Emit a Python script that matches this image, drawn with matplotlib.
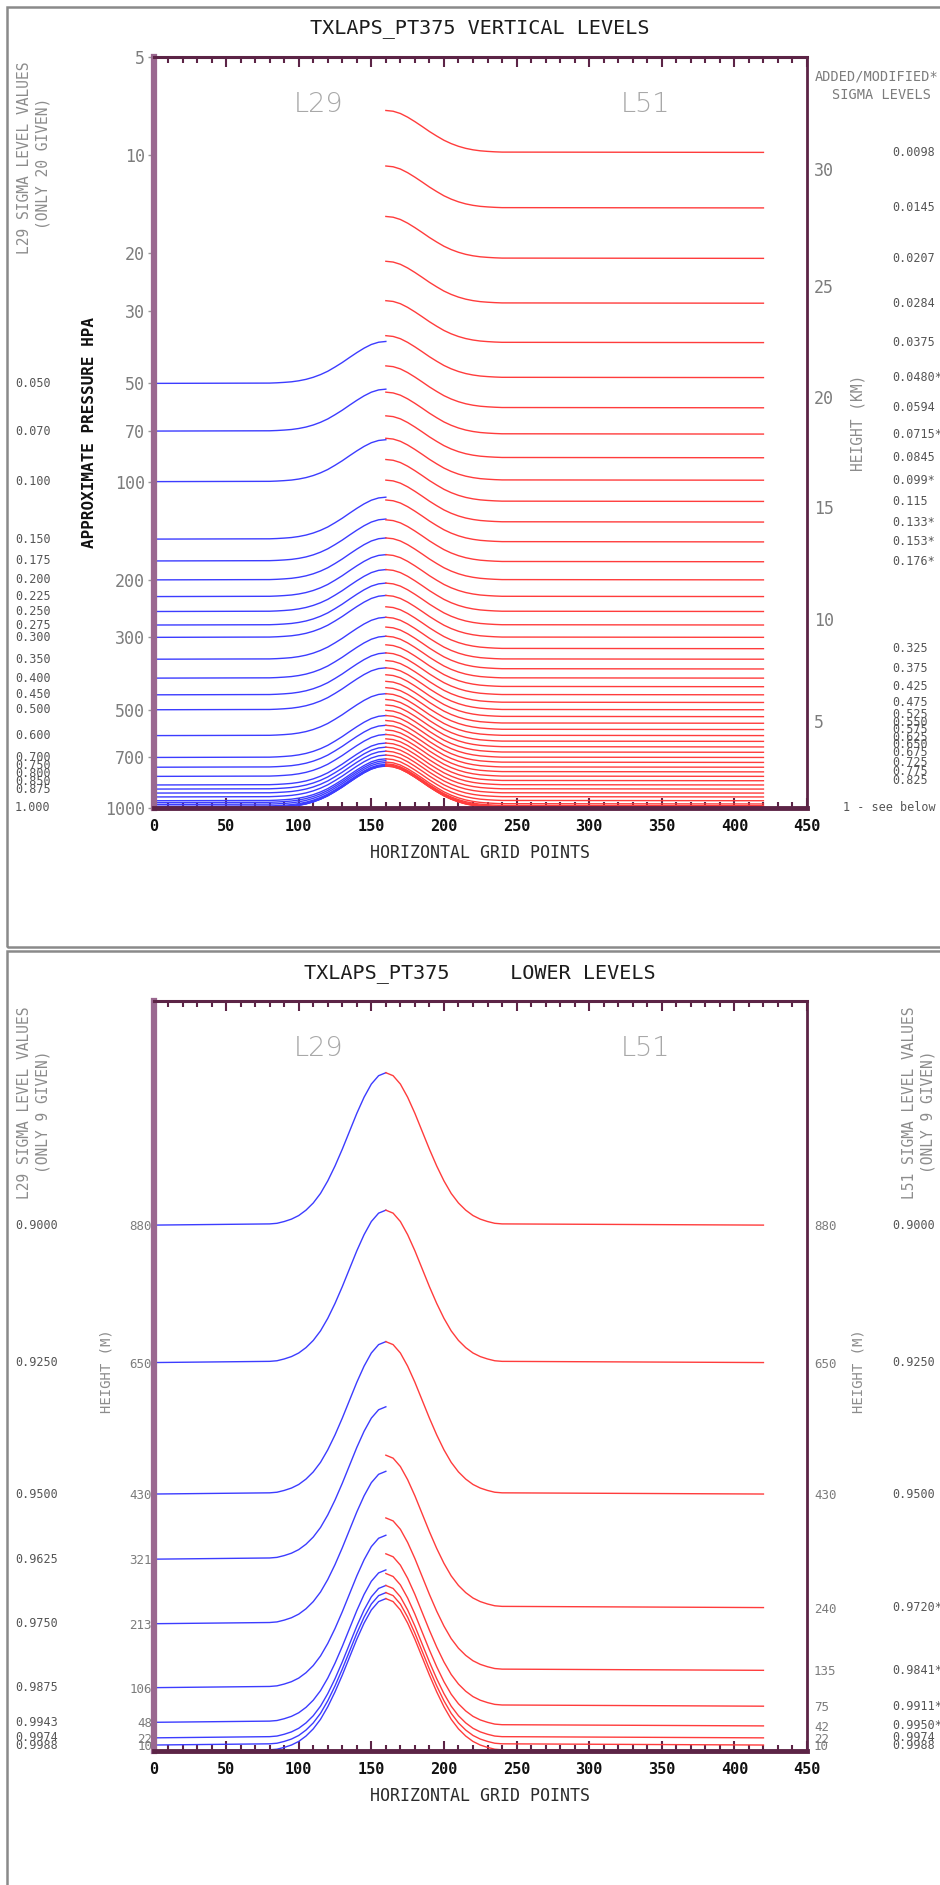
import numpy as np
import matplotlib.pyplot as plt
from matplotlib.patches import Rectangle
from matplotlib.ticker import NullLocator, MultipleLocator

plt.rcParams['font.family'] = ['DejaVu Sans Mono']

# hill profile (grid points, surface pressure, terrain height)
hill_x = [0, 80, 85, 90, 95, 100, 105, 110, 115, 120, 125, 130, 135, 140, 145, 150, 155, 160,
          165, 170, 175, 180, 185, 190, 195, 200, 205, 210, 215, 220, 225, 230, 235, 240, 420]
ps_top = [1000, 998, 996, 993, 989, 982, 972, 958, 940, 918, 891, 863, 833, 805, 780, 760, 748, 744,
          748, 760, 780, 805, 833, 863, 891, 918, 940, 958, 972, 982, 989, 993, 996, 998, 1000]
terrain_low = [0, 2, 3, 6, 10, 16, 25, 37, 53, 74, 99, 127, 157, 187, 214, 236, 250, 255,
               250, 236, 214, 187, 157, 127, 99, 74, 53, 37, 25, 16, 10, 6, 3, 2, 0]

# sigma levels
l29_sigma = [0.05, 0.07, 0.10, 0.15, 0.175, 0.20, 0.225, 0.25, 0.275, 0.30, 0.35, 0.40, 0.45, 0.50,
             0.60, 0.70, 0.75, 0.80, 0.85, 0.875, 0.90, 0.925, 0.95, 0.9625, 0.975, 0.9875, 0.9943,
             0.9974, 0.9988, 1.0]
l51_sigma = [0.0098, 0.0145, 0.0207, 0.0284, 0.0375, 0.048, 0.0594, 0.0715, 0.0845, 0.099, 0.115,
             0.133, 0.153, 0.176, 0.20, 0.225, 0.25, 0.275, 0.30, 0.325, 0.35, 0.375, 0.40, 0.425,
             0.45, 0.475, 0.50, 0.525, 0.55, 0.575, 0.60, 0.625, 0.65, 0.675, 0.70, 0.725, 0.75,
             0.775, 0.80, 0.825, 0.85, 0.875, 0.90, 0.925, 0.95, 0.972, 0.9841, 0.9911, 0.995,
             0.9974, 0.9988, 1.0]

# axis labels, top panel
pres_ticks = [5, 10, 20, 30, 50, 70, 100, 200, 300, 500, 700, 1000]
km_labels = ['5', '10', '15', '20', '25', '30']
km_tick_pres = [540, 264, 120, 55, 25.1, 11.0]
top_l29_labels = ['0.050', '0.070', '0.100', '0.150', '0.175', '0.200', '0.225', '0.250', '0.275',
                  '0.300', '0.350', '0.400', '0.450', '0.500', '0.600', '0.700', '0.750', '0.800',
                  '0.850', '0.875', '1.000']
top_l51_labels = ['0.0098', '0.0145', '0.0207', '0.0284', '0.0375', '0.0480*', '0.0594', '0.0715*',
                  '0.0845', '0.099*', '0.115', '0.133*', '0.153*', '0.176*', '0.325', '0.375',
                  '0.425', '0.475', '0.525', '0.550', '0.575', '0.625', '0.650', '0.675', '0.725',
                  '0.775', '0.825']

# lower panel levels (height in m) and their sigma labels
low_l29_m = [880, 650, 430, 321, 213, 106, 48, 22, 10]
low_l29_sig = ['0.9000', '0.9250', '0.9500', '0.9625', '0.9750', '0.9875', '0.9943', '0.9974', '0.9988']
low_l51_m = [880, 650, 430, 240, 135, 75, 42, 22, 10]
low_l51_sig = ['0.9000', '0.9250', '0.9500', '0.9720*', '0.9841*', '0.9911*', '0.9950*', '0.9974', '0.9988']

x_ticks = [0, 50, 100, 150, 200, 250, 300, 350, 400, 450]

W, H = 940, 1885
BLUE = '#3c3cff'
RED = '#ff3c3c'
SPINE = '#5c2446'
LBL = '#7c7c7c'

fig = plt.figure(figsize=(W / 100, H / 100), dpi=100)


def fx(x):
    return x / W


def fy(y):
    return 1 - y / H


def put(x, y, s, **kw):
    kw.setdefault('va', 'center')
    fig.text(fx(x), fy(y), s, **kw)


def frame(x0, y0, x1, y1):
    fig.add_artist(Rectangle((fx(x0), fy(y1)), (x1 - x0) / W, (y1 - y0) / H,
                             transform=fig.transFigure, fill=False, ec='#8a8a8a', lw=1.8,
                             clip_on=False))


def style_axes(ax):
    ax.set_xlim(0, 450)
    ax.set_xticks(x_ticks)
    ax.set_xticklabels([str(v) for v in x_ticks], fontweight='bold', color='#111111')
    ax.xaxis.set_minor_locator(MultipleLocator(10))
    ax.tick_params(axis='x', which='both', direction='in', top=True, bottom=True,
                   color=SPINE, width=1.5)
    ax.tick_params(axis='x', which='major', length=7, labelsize=11, pad=8)
    ax.tick_params(axis='x', which='minor', length=4.5)
    ax.spines['left'].set_color('#9a6890')
    ax.spines['left'].set_linewidth(4.5)
    ax.spines['bottom'].set_color(SPINE)
    ax.spines['bottom'].set_linewidth(3.5)
    ax.spines['top'].set_color(SPINE)
    ax.spines['top'].set_linewidth(2.2)
    ax.spines['right'].set_color(SPINE)
    ax.spines['right'].set_linewidth(2)


def stacked(ax, values, texts, xs, gap, **kw):
    # place labels at their level, pushing them upward so they do not pile up
    ys = [H - ax.transData.transform((0, v))[1] for v in values]
    order = np.argsort(ys, kind='stable')[::-1]
    prev = None
    for i in order:
        y = ys[i]
        if prev is not None and y > prev - gap:
            y = prev - gap
        put(xs[i], y, texts[i], **kw)
        prev = y


hx = np.array(hill_x)
left = hx <= 160
right = hx >= 160

# ---------------- top panel ----------------
frame(7, 7, 960, 947)
ax1 = fig.add_axes([fx(153.5), fy(808), (807 - 153.5) / W, (808 - 57) / H])
ps = np.array(ps_top, dtype=float)
for s in l29_sigma:
    ax1.plot(hx[left], s * ps[left], color=BLUE, lw=1.0)
for s in l51_sigma:
    ax1.plot(hx[right], s * ps[right], color=RED, lw=1.0)
ax1.set_yscale('log')
ax1.set_ylim(1000, 5)
ax1.set_yticks(pres_ticks)
ax1.set_yticklabels([str(p) for p in pres_ticks])
ax1.yaxis.set_minor_locator(NullLocator())
ax1.tick_params(axis='y', which='both', direction='out', length=4.5, width=1, color='#999999',
                labelcolor=LBL, labelsize=12, pad=1.5)
style_axes(ax1)

ax1r = ax1.twinx()
ax1r.set_yscale('log')
ax1r.set_ylim(1000, 5)
ax1r.set_yticks(km_tick_pres)
ax1r.set_yticklabels(km_labels)
ax1r.yaxis.set_minor_locator(NullLocator())
ax1r.tick_params(axis='y', which='both', length=0, pad=5, labelsize=12, labelcolor=LBL)
for sp in ax1r.spines.values():
    sp.set_visible(False)

put(480, 29, 'TXLAPS_PT375 VERTICAL LEVELS', ha='center', fontsize=14.5, color='#1c1c1c')
put(319, 105, 'L29', ha='center', family='DejaVu Sans', fontweight='light', fontsize=19.5,
    color='#a8a8a8')
put(645, 105, 'L51', ha='center', family='DejaVu Sans', fontweight='light', fontsize=19.5,
    color='#a8a8a8')
put(25, 158, 'L29 SIGMA LEVEL VALUES', ha='center', rotation=90, fontsize=10.5, color='#8c8c8c')
put(43, 163, '(ONLY 20 GIVEN)', ha='center', rotation=90, fontsize=10.5, color='#8c8c8c')
put(90, 432, 'APPROXIMATE PRESSURE HPA', ha='center', rotation=90, fontsize=11.5,
    fontweight='bold', color='#111111')
put(858, 423, 'HEIGHT (KM)', ha='center', rotation=90, fontsize=10.5, color='#8c8c8c')
put(877, 77, 'ADDED/MODIFIED*', ha='center', fontsize=9.8, color=LBL)
put(882, 95, 'SIGMA LEVELS', ha='center', fontsize=9.8, color=LBL)
put(480, 853, 'HORIZONTAL GRID POINTS', ha='center', fontsize=12, color='#2a2a2a')

stacked(ax1, [float(t) * 1000 for t in top_l29_labels], top_l29_labels,
        [15] * len(top_l29_labels), 8, fontsize=8.5, color='#555555')
stacked(ax1, [1000] + [float(t.rstrip('*')) * 1000 for t in top_l51_labels],
        ['1 - see below'] + top_l51_labels, [843] + [892] * len(top_l51_labels), 7.5,
        fontsize=8.5, color='#555555')

# ---------------- lower panel ----------------
frame(7, 951, 960, 1900)
ax2 = fig.add_axes([fx(153.5), fy(1751), (807 - 153.5) / W, (1751 - 1001) / H])
ter = np.array(terrain_low, dtype=float)
for z in low_l29_m + [0]:
    ax2.plot(hx[left], z + ter[left], color=BLUE, lw=1.0)
for z in low_l51_m + [0]:
    ax2.plot(hx[right], z + ter[right], color=RED, lw=1.0)
ax2.set_ylim(0, 1255)
ax2.set_yticks(low_l29_m)
ax2.set_yticklabels([str(v) for v in low_l29_m])
ax2.tick_params(axis='y', length=0, pad=1, labelsize=9, labelcolor=LBL)
style_axes(ax2)

ax2r = ax2.twinx()
ax2r.set_ylim(0, 1255)
ax2r.set_yticks(low_l51_m)
ax2r.set_yticklabels([str(v) for v in low_l51_m])
ax2r.tick_params(axis='y', length=0, pad=5, labelsize=9, labelcolor=LBL)
for sp in ax2r.spines.values():
    sp.set_visible(False)

put(480, 973, 'TXLAPS_PT375     LOWER LEVELS', ha='center', fontsize=14.5, color='#1c1c1c')
put(319, 1048, 'L29', ha='center', family='DejaVu Sans', fontweight='light', fontsize=19.5,
    color='#a8a8a8')
put(645, 1048, 'L51', ha='center', family='DejaVu Sans', fontweight='light', fontsize=19.5,
    color='#a8a8a8')
put(25, 1103, 'L29 SIGMA LEVEL VALUES', ha='center', rotation=90, fontsize=10.5, color='#8c8c8c')
put(43, 1112, '(ONLY 9 GIVEN)', ha='center', rotation=90, fontsize=10.5, color='#8c8c8c')
put(910, 1103, 'L51 SIGMA LEVEL VALUES', ha='center', rotation=90, fontsize=10.5, color='#8c8c8c')
put(928, 1112, '(ONLY 9 GIVEN)', ha='center', rotation=90, fontsize=10.5, color='#8c8c8c')
put(107, 1371, 'HEIGHT (M)', ha='center', rotation=90, fontsize=10, color='#8c8c8c')
put(858, 1371, 'HEIGHT (M)', ha='center', rotation=90, fontsize=10, color='#8c8c8c')
put(480, 1796, 'HORIZONTAL GRID POINTS', ha='center', fontsize=12, color='#2a2a2a')

stacked(ax2, low_l29_m, low_l29_sig, [15] * 9, 8, fontsize=8.5, color='#555555')
stacked(ax2, low_l51_m, low_l51_sig, [892] * 9, 8, fontsize=8.5, color='#555555')

fig.savefig('out.png', dpi=100)
